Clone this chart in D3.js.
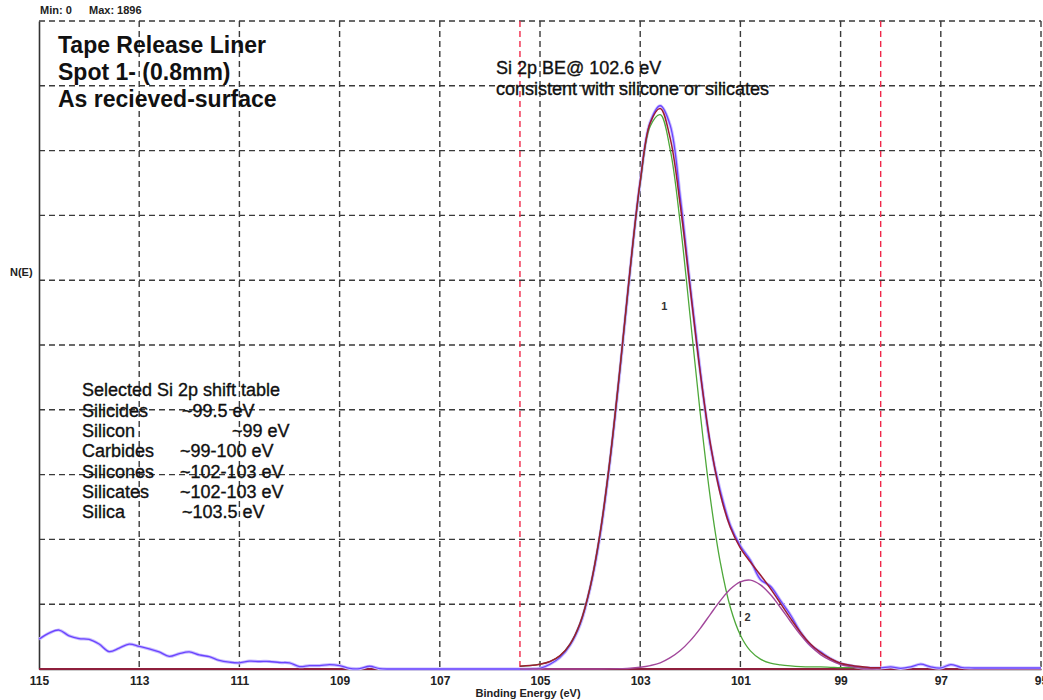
<!DOCTYPE html>
<html>
<head>
<meta charset="utf-8">
<script src="https://cdn.jsdelivr.net/npm/d3@7"></script>
<style>
  html, body { margin: 0; padding: 0; background: #ffffff; }
  svg { display: block; font-family: "Liberation Sans", Arial, sans-serif; }
</style>
</head>
<body>
<svg id="chart" width="1043" height="700"></svg>
<script>
// ---------- data ----------
const xTicks = [115, 113, 111, 109, 107, 105, 103, 101, 99, 97, 95];
const yMin = 0, yMax = 1896;
const regionLimits = [105.4, 98.2];

const rawEnergy = [115.0,114.8,114.6,114.4,114.2,114.0,113.8,113.6,113.4,113.2,113.0,112.8,112.6,112.4,112.2,112.0,111.8,111.6,111.4,111.2,111.0,110.8,110.6,110.4,110.2,110.0,109.8,109.6,109.4,109.2,109.0,108.8,108.6,108.4,108.2,108.0,107.8,107.6,107.4,107.2,107.0,106.8,106.6,106.4,106.2,106.0,105.8,105.6,105.4,105.2,105.0,104.8,104.6,104.4,104.2,104.0,103.8,103.6,103.4,103.2,103.0,102.8,102.6,102.4,102.2,102.0,101.8,101.6,101.4,101.2,101.0,100.8,100.6,100.4,100.2,100.0,99.8,99.6,99.4,99.2,99.0,98.8,98.6,98.4,98.2,98.0,97.8,97.6,97.4,97.2,97.0,96.8,96.6,96.4,96.2,96.0,95.8,95.6,95.4,95.2,95.0];
const rawCounts = [87,105,114,97,89,87,73,51,61,73,66,59,50,37,45,50,41,36,25,20,18,23,22,22,19,18,7,10,10,13,10,2,1,8,1,0,0,0,0,0,0,0,0,0,0,0,0,0,0,0,2,14,34,70,130,236,392,612,880,1168,1425,1600,1648,1590,1380,1118,870,655,520,420,360,318,262,242,200,158,108,70,50,30,16,10,4,3,3,6,2,6,14,6,3,13,5,3,3,3,3,3,3,3,3];

const fitEnergy = [105.4,105.2,105.0,104.8,104.6,104.4,104.2,104.0,103.8,103.6,103.4,103.2,103.0,102.8,102.6,102.4,102.2,102.0,101.8,101.6,101.4,101.2,101.0,100.8,100.6,100.4,100.2,100.0,99.8,99.6,99.4,99.2,99.0,98.8,98.6,98.4,98.2];
const peak1 = [8,10,14,22,39,73,134,239,398,617,884,1170,1422,1588,1622,1519,1303,1027,746,500,311,180,99,53,29,17,12,9,7,6,6,5,4,4,4,3,3];
const peak2 = [0,0,0,0,0,0,0,0,0,0.4,1,2,5,10,18,33,54,83,119,160,200,234,255,260,246,218,180,139,100,67,42,25,13,7,3,1,1];
const envelope = [8,10,14,22,39,73,134,239,398,617,885,1172,1427,1598,1640,1552,1357,1110,865,660,511,414,354,313,275,235,192,148,107,73,48,30,17,11,7,4,4];

const titleLines = ["Tape Release Liner", "Spot 1- (0.8mm)", "As recieved-surface"];
const noteLines = ["Si 2p BE@ 102.6 eV", "consistent with silicone or silicates"];
const shiftHeader = "Selected Si 2p shift table";
const shiftNames = ["Silicides", "Silicon", "Carbides", "Silicones", "Silicates", "Silica"];
const shiftValues = ["~99.5 eV", "~99 eV", "~99-100 eV", "~102-103 eV", "~102-103 eV", "~103.5 eV"];
const peakLabels = [{name: "1", e: 102.58, v: 1050}, {name: "2", e: 100.92, v: 140}];

// ---------- layout ----------
const svg = d3.select("#chart");
const L = 39, R = 1041, T = 21, B = 669;
const x = d3.scaleLinear().domain([115, 95]).range([L, R]);
const y = d3.scaleLinear().domain([yMin, yMax]).range([B, T]);

// grid
const gridColor = "#3a3a3a";
const yGrid = d3.range(1, 11).map(i => yMax * i / 10);
svg.append("g").selectAll("line").data(yGrid).join("line")
  .attr("x1", L).attr("x2", R)
  .attr("y1", d => y(d)).attr("y2", d => y(d))
  .attr("stroke", gridColor).attr("stroke-width", 1.4).attr("stroke-dasharray", "6,4");
svg.append("g").selectAll("line").data(xTicks.slice(1)).join("line")
  .attr("x1", d => x(d)).attr("x2", d => x(d))
  .attr("y1", T).attr("y2", B)
  .attr("stroke", gridColor).attr("stroke-width", 1.4).attr("stroke-dasharray", "6,4");

// red region limits
svg.append("g").selectAll("line").data(regionLimits).join("line")
  .attr("x1", d => x(d)).attr("x2", d => x(d))
  .attr("y1", T).attr("y2", B)
  .attr("stroke", "#f0284a").attr("stroke-width", 1.4).attr("stroke-dasharray", "6,4");

// axes
const xAxis = d3.axisBottom(x).tickValues(xTicks).tickSize(0).tickPadding(7).tickFormat(d3.format("d"));
const gx = svg.append("g").attr("transform", `translate(0,${B})`).call(xAxis);
gx.select(".domain").attr("stroke", "#333").attr("stroke-width", 1.6);
gx.selectAll("text").attr("font-size", 12).attr("font-weight", "bold").attr("fill", "#222")
  .attr("font-family", "Liberation Sans, Arial, sans-serif");

const yAxis = d3.axisLeft(y).tickValues([]).tickSize(0);
const gy = svg.append("g").attr("transform", `translate(${L},0)`).call(yAxis);
gy.select(".domain").attr("stroke", "#333").attr("stroke-width", 1.6);

// baseline under the data
svg.append("line").attr("x1", x(115)).attr("x2", x(95)).attr("y1", y(0)).attr("y2", y(0))
  .attr("stroke", "#8e1f3c").attr("stroke-width", 2);

// curves
const line = (xs) => d3.line().x((d, i) => x(xs[i])).y(d => y(d)).curve(d3.curveCatmullRom.alpha(0.5));

svg.append("path").datum(rawCounts).attr("d", line(rawEnergy))
  .attr("fill", "none").attr("stroke", "#c8bcff").attr("stroke-width", 3.2);
svg.append("path").datum(rawCounts).attr("d", line(rawEnergy))
  .attr("fill", "none").attr("stroke", "#6a44ff").attr("stroke-width", 1.3);

svg.append("path").datum(peak1).attr("d", line(fitEnergy))
  .attr("fill", "none").attr("stroke", "#4ea83a").attr("stroke-width", 1.3);
svg.append("path").datum(peak2).attr("d", line(fitEnergy))
  .attr("fill", "none").attr("stroke", "#a2479b").attr("stroke-width", 1.4);
svg.append("path").datum(envelope).attr("d", line(fitEnergy))
  .attr("fill", "none").attr("stroke", "#9c1c33").attr("stroke-width", 1.5);

// peak labels
svg.append("g").selectAll("text").data(peakLabels).join("text")
  .attr("x", d => x(d.e)).attr("y", d => y(d.v))
  .attr("font-size", 11).attr("font-weight", "bold").attr("fill", "#333")
  .text(d => d.name);

// header
svg.append("text").attr("x", 40).attr("y", 14).attr("font-size", 11).attr("font-weight", "bold").attr("fill", "#222")
  .text("Min: 0");
svg.append("text").attr("x", 89).attr("y", 14).attr("font-size", 11).attr("font-weight", "bold").attr("fill", "#222")
  .text("Max: 1896");

// y label
svg.append("text").attr("x", 10).attr("y", 276).attr("font-size", 11).attr("font-weight", "bold").attr("fill", "#222")
  .text("N(E)");

// x label
svg.append("text").attr("x", 528).attr("y", 697).attr("text-anchor", "middle")
  .attr("font-size", 11).attr("font-weight", "bold").attr("fill", "#222")
  .text("Binding Energy (eV)");

// title
svg.append("g").selectAll("text").data(titleLines).join("text")
  .attr("x", 58).attr("y", (d, i) => 53 + i * 27)
  .attr("font-size", 23).attr("font-weight", "bold").attr("fill", "#111")
  .text(d => d);

// note
svg.append("g").selectAll("text").data(noteLines).join("text")
  .attr("x", 496).attr("y", (d, i) => 74 + i * 21)
  .attr("font-size", 18).attr("fill", "#111")
  .attr("stroke", "#111").attr("stroke-width", 0.35)
  .text(d => d);

// shift table
svg.append("text").attr("x", 82).attr("y", 396).attr("font-size", 18).attr("fill", "#111")
  .attr("stroke", "#111").attr("stroke-width", 0.35).text(shiftHeader);
const valueX = [182, 232, 180, 180, 180, 182];
svg.append("g").selectAll("text").data(shiftNames).join("text")
  .attr("x", 82).attr("y", (d, i) => 417 + i * 20.2)
  .attr("font-size", 18).attr("fill", "#111")
  .attr("stroke", "#111").attr("stroke-width", 0.35).text(d => d);
svg.append("g").selectAll("text").data(shiftValues).join("text")
  .attr("x", (d, i) => valueX[i]).attr("y", (d, i) => 417 + i * 20.2)
  .attr("font-size", 18).attr("fill", "#111")
  .attr("stroke", "#111").attr("stroke-width", 0.35).text(d => d);
</script>
</body>
</html>
